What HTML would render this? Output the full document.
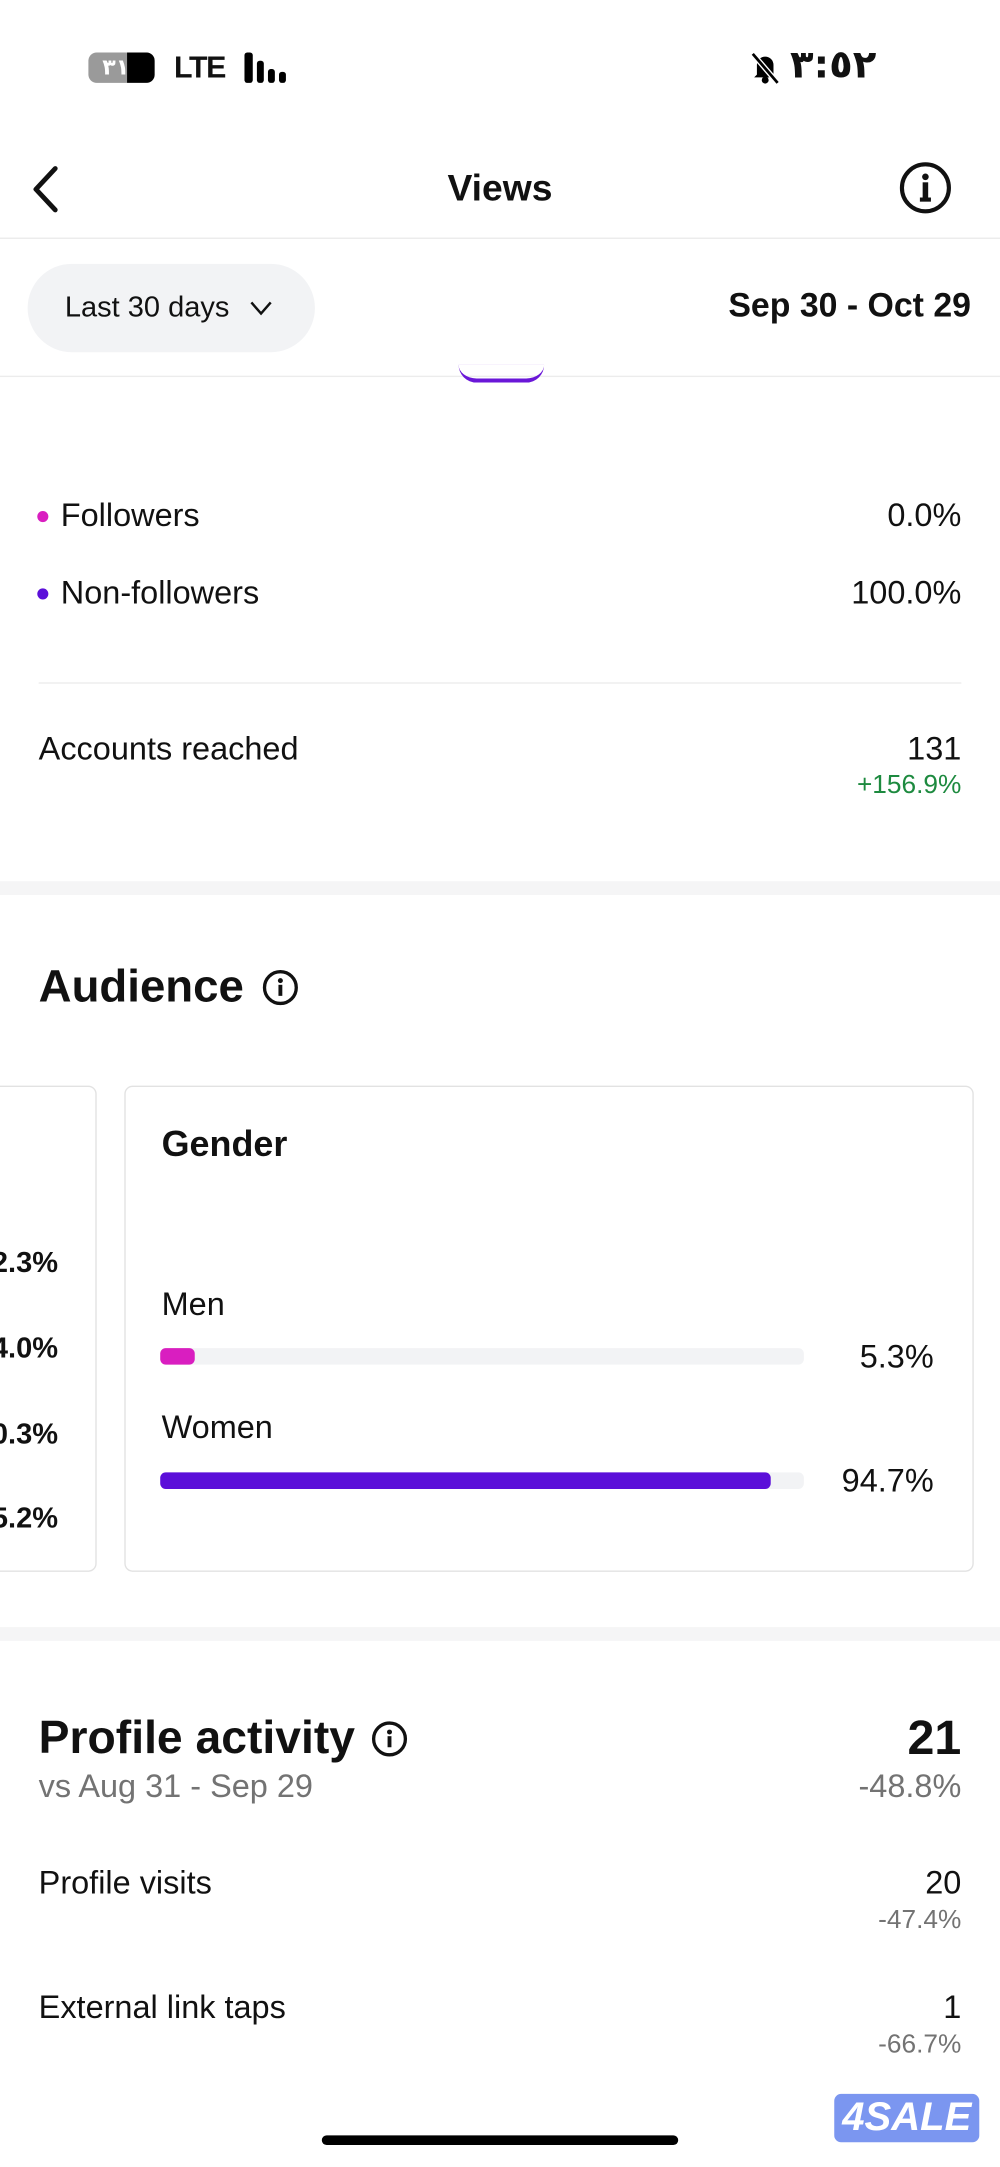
<!DOCTYPE html>
<html><head><meta charset="utf-8"><style>
html,body{margin:0;padding:0;background:#fff;overflow:hidden}
body{width:1000px;height:2167px}
#c{position:absolute;left:0;top:0;width:724px;height:1569px;transform:scale(1.38122);transform-origin:0 0;font-family:"Liberation Sans",Arial,sans-serif;color:#111}
.a{position:absolute;white-space:nowrap}
.r{text-align:right}
.b{font-weight:bold}
.g{color:#737373}
</style></head><body><div id="c">
<!-- status bar -->
<div class="a" style="left:64px;top:38px;width:48px;height:22px;border-radius:6px;background:#9a9a9a;overflow:hidden"><div style="position:absolute;right:0;top:0;width:20px;height:22px;background:#000"></div><div class="a b" style="left:10px;top:1px;font-size:16px;color:#fff;font-family:'DejaVu Sans',sans-serif">٣١</div></div>
<div class="a b" style="left:126px;top:36px;font-size:22px;letter-spacing:-1px">LTE</div>
<div class="a" style="left:177px;top:38px;width:6px;height:22px;background:#000;border-radius:2px"></div>
<div class="a" style="left:186px;top:44px;width:5px;height:16px;background:#000;border-radius:2px"></div>
<div class="a" style="left:194px;top:50px;width:5px;height:10px;background:#000;border-radius:2px"></div>
<div class="a" style="left:202px;top:52px;width:5px;height:8px;background:#000;border-radius:2px"></div>
<svg class="a" style="left:542px;top:36px" width="24" height="26"><path d="M6 18 V11 a6 6 0 0 1 12 0 V18 l2 2 H4 Z" fill="#000"/><circle cx="12" cy="22" r="2.5" fill="#000"/><line x1="3" y1="3" x2="21" y2="24" stroke="#fff" stroke-width="4"/><line x1="3" y1="3" x2="21" y2="24" stroke="#000" stroke-width="2"/></svg>
<div class="a b" style="left:572px;top:30px;font-size:28px;font-family:'DejaVu Sans',sans-serif">٣:٥٢</div>
<!-- header -->
<svg class="a" style="left:18px;top:118px" width="30" height="38"><polyline points="22,4 8,19 22,34" fill="none" stroke="#111" stroke-width="3.5" stroke-linecap="round" stroke-linejoin="round"/></svg>
<div class="a b" style="left:0;width:724px;text-align:center;top:121px;font-size:27px">Views</div>
<svg class="a" style="left:650px;top:116px" width="40" height="40"><circle cx="20" cy="20" r="17" fill="none" stroke="#111" stroke-width="3"/><circle cx="20" cy="12" r="2.4" fill="#111"/><rect x="18" y="16" width="4" height="13" fill="#111"/><rect x="16" y="27" width="8" height="3" fill="#111"/></svg>
<div class="a" style="left:0;top:172px;width:724px;height:1px;background:#ececec"></div>
<div class="a" style="left:20px;top:191px;width:208px;height:64px;border-radius:32px;background:#f2f3f5"></div>
<div class="a" style="left:47px;top:211px;font-size:21px">Last 30 days</div>
<svg class="a" style="left:180px;top:216px" width="20" height="14"><polyline points="2,3 9,11 16,3" fill="none" stroke="#111" stroke-width="1.8"/></svg>
<div class="a b r" style="right:21px;top:208px;font-size:24.5px">Sep 30 - Oct 29</div>
<div class="a" style="left:0;top:272px;width:724px;height:1px;background:#ececec"></div>
<div class="a" style="left:332px;top:264px;width:62px;height:10px;border-bottom:3px solid #6a17d8;border-radius:0 0 30px 30px"></div>
<!-- followers -->
<div class="a" style="left:27px;top:370px;width:8px;height:8px;border-radius:50%;background:#d91ec0"></div>
<div class="a" style="left:44px;top:360px;font-size:23.5px">Followers</div>
<div class="a r" style="right:28px;top:360px;font-size:23.5px">0.0%</div>
<div class="a" style="left:27px;top:426px;width:8px;height:8px;border-radius:50%;background:#5b0fd9"></div>
<div class="a" style="left:44px;top:416px;font-size:23.5px">Non-followers</div>
<div class="a r" style="right:28px;top:416px;font-size:23.5px">100.0%</div>
<div class="a" style="left:28px;top:494px;width:668px;height:1px;background:#ececec"></div>
<div class="a" style="left:28px;top:529px;font-size:23.5px">Accounts reached</div>
<div class="a r" style="right:28px;top:529px;font-size:23.5px">131</div>
<div class="a r" style="right:28px;top:558px;font-size:19px;color:#1d8a3f">+156.9%</div>
<div class="a" style="left:0;top:638px;width:724px;height:10px;background:#f5f5f6"></div>
<!-- audience -->
<div class="a b" style="left:28px;top:695px;font-size:33px">Audience</div>
<svg class="a" style="left:189px;top:701px" width="28" height="28"><circle cx="14" cy="14" r="11.5" fill="none" stroke="#111" stroke-width="2.4"/><circle cx="14" cy="9" r="1.8" fill="#111"/><rect x="12.6" y="12" width="2.8" height="8" fill="#111"/></svg>
<div class="a" style="left:-20px;top:786px;width:88px;height:350px;border:1px solid #e2e2e2;border-radius:6px"></div>
<div class="a b r" style="right:682px;top:903px;font-size:21px">2.3%</div>
<div class="a b r" style="right:682px;top:965px;font-size:21px">4.0%</div>
<div class="a b r" style="right:682px;top:1027px;font-size:21px">0.3%</div>
<div class="a b r" style="right:682px;top:1088px;font-size:21px">5.2%</div>
<div class="a" style="left:90px;top:786px;width:613px;height:350px;border:1px solid #e2e2e2;border-radius:6px"></div>
<div class="a b" style="left:117px;top:813px;font-size:26px">Gender</div>
<div class="a" style="left:117px;top:931px;font-size:23.5px">Men</div>
<div class="a" style="left:116px;top:976px;width:466px;height:12px;border-radius:4px;background:#f2f3f5"></div>
<div class="a" style="left:116px;top:976px;width:25px;height:12px;border-radius:4px;background:#d91ec0"></div>
<div class="a r" style="right:48px;top:969px;font-size:23.5px">5.3%</div>
<div class="a" style="left:117px;top:1020px;font-size:23.5px">Women</div>
<div class="a" style="left:116px;top:1066px;width:466px;height:12px;border-radius:4px;background:#f2f3f5"></div>
<div class="a" style="left:116px;top:1066px;width:442px;height:12px;border-radius:4px;background:#5b0fd9"></div>
<div class="a r" style="right:48px;top:1059px;font-size:23.5px">94.7%</div>
<div class="a" style="left:0;top:1178px;width:724px;height:10px;background:#f5f5f6"></div>
<!-- profile activity -->
<div class="a b" style="left:28px;top:1240px;font-size:33.5px">Profile activity</div>
<svg class="a" style="left:268px;top:1245px" width="28" height="28"><circle cx="14" cy="14" r="11.5" fill="none" stroke="#111" stroke-width="2.4"/><circle cx="14" cy="9" r="1.8" fill="#111"/><rect x="12.6" y="12" width="2.8" height="8" fill="#111"/></svg>
<div class="a b r" style="right:28px;top:1239px;font-size:35px">21</div>
<div class="a g" style="left:28px;top:1280px;font-size:23.5px">vs Aug 31 - Sep 29</div>
<div class="a g r" style="right:28px;top:1280px;font-size:23.5px">-48.8%</div>
<div class="a" style="left:28px;top:1350px;font-size:23.5px">Profile visits</div>
<div class="a r" style="right:28px;top:1350px;font-size:23.5px">20</div>
<div class="a g r" style="right:28px;top:1380px;font-size:19px">-47.4%</div>
<div class="a" style="left:28px;top:1440px;font-size:23.5px">External link taps</div>
<div class="a r" style="right:28px;top:1440px;font-size:23.5px">1</div>
<div class="a g r" style="right:28px;top:1470px;font-size:19px">-66.7%</div>
<div class="a" style="left:233px;top:1546px;width:258px;height:7px;border-radius:4px;background:#000"></div>
<div class="a b" style="left:604px;top:1516px;width:105px;height:35px;border-radius:5px;background:#7b96f0;color:#fff;font-size:29px;font-style:italic;text-align:center;line-height:35px">4SALE</div>
</div></body></html>
